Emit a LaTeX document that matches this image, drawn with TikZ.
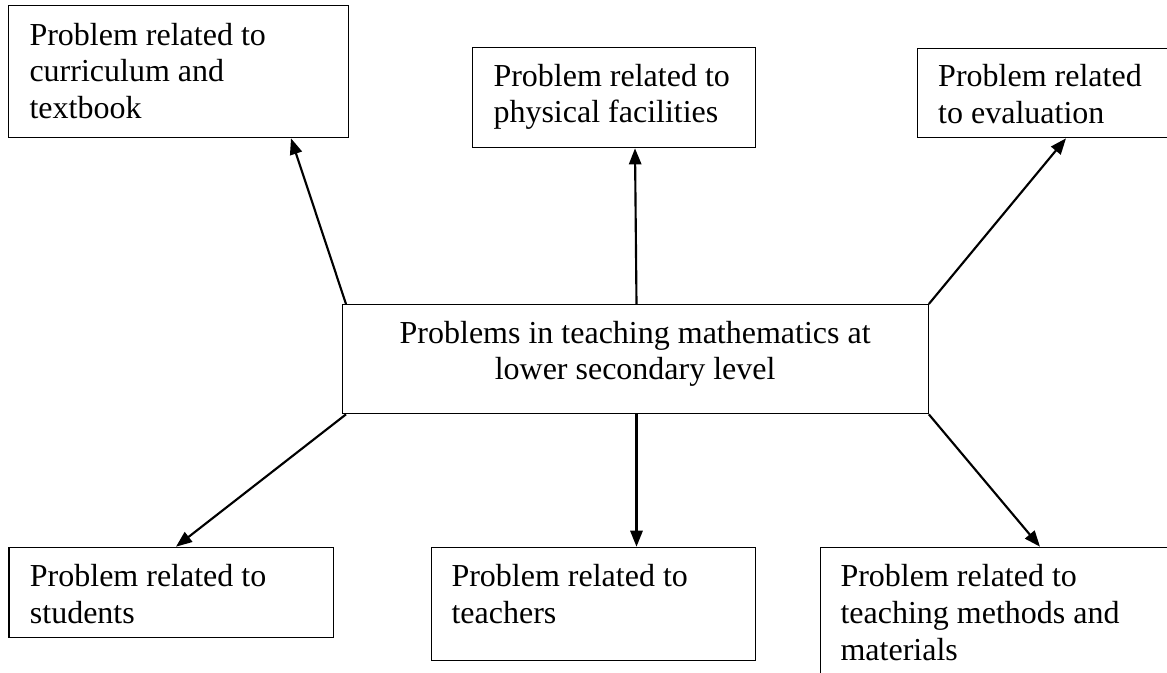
\documentclass[tikz,border=0pt]{standalone}
\usepackage{fontspec}
\setmainfont{Liberation Serif}
\usetikzlibrary{calc,arrows.meta}
\tikzset{
  box/.style={draw, rectangle, line width=0.5pt, inner sep=0pt, anchor=north west},
  label/.style={anchor=base west, inner sep=0pt, align=left, font=\fontsize{12}{13.8}\selectfont},
  clabel/.style={anchor=base, inner sep=0pt, align=center, font=\fontsize{12}{13.8}\selectfont},
  link/.style={line width=0.8pt, -{Triangle[length=6pt,width=4.6pt]}}
}
\begin{document}
\begin{tikzpicture}[x=0.375pt,y=-0.375pt]
\useasboundingbox (0,0) rectangle (1167,672);
\clip (0,0) rectangle (1167,672);
\def\u{0.375pt}
% boxes
\node[box, minimum width=339.5*\u, minimum height=132*\u] (A) at (8,5) {};
\node[box, minimum width=282.5*\u, minimum height=100*\u] (B) at (472,47) {};
\node[box, minimum width=275*\u, minimum height=89.5*\u] (C) at (917,47.5) {};
\node[box, minimum width=586*\u, minimum height=109*\u] (D) at (341.5,304) {};
\node[box, minimum width=324.6*\u, minimum height=90*\u] (E) at (8.4,546.7) {};
\node[box, minimum width=324*\u, minimum height=113.3*\u] (F) at (430.5,546.7) {};
\node[box, minimum width=380*\u, minimum height=150*\u] (G) at (819.6,546.7) {};
% texts (base anchor = baseline of the last line)
\node[label] (At) at ($(A.north west)+(21,113.6)$) {Problem related to\\curriculum and\\textbook};
\node[label] (Bt) at ($(B.north west)+(21,75.8)$) {Problem related to\\physical facilities};
\node[label] (Ct) at ($(C.north west)+(20.7,75.8)$) {Problem related\\to evaluation};
\node[clabel] (Dt) at ($(D.north)+(0,75.8)$) {Problems in teaching mathematics at\\lower secondary level};
\node[label] (Et) at ($(E.north west)+(21,76.8)$) {Problem related to\\students};
\node[label] (Ft) at ($(F.north west)+(20.5,76.8)$) {Problem related to\\teachers};
\node[label] (Gt) at ($(G.north west)+(20.4,113.6)$) {Problem related to\\teaching methods and\\materials};
% connectors
\draw[link] ($(D.north west)+(4.5,0)$) -- ($(A.south west)+(283,0)$);
\draw[link] ($(D.north west)+(295,0)$) -- ($(B.south west)+(163,0)$);
\draw[link] (D.north east) -- ($(C.south west)+(149,0)$);
\draw[link] ($(D.south west)+(4.5,0)$) -- ($(E.north west)+(167.6,0)$);
\draw[link] ($(D.south west)+(295,0)$) -- ($(F.north west)+(206,0)$);
\draw[link] (D.south east) -- ($(G.north west)+(220.4,0)$);
\end{tikzpicture}
\end{document}
